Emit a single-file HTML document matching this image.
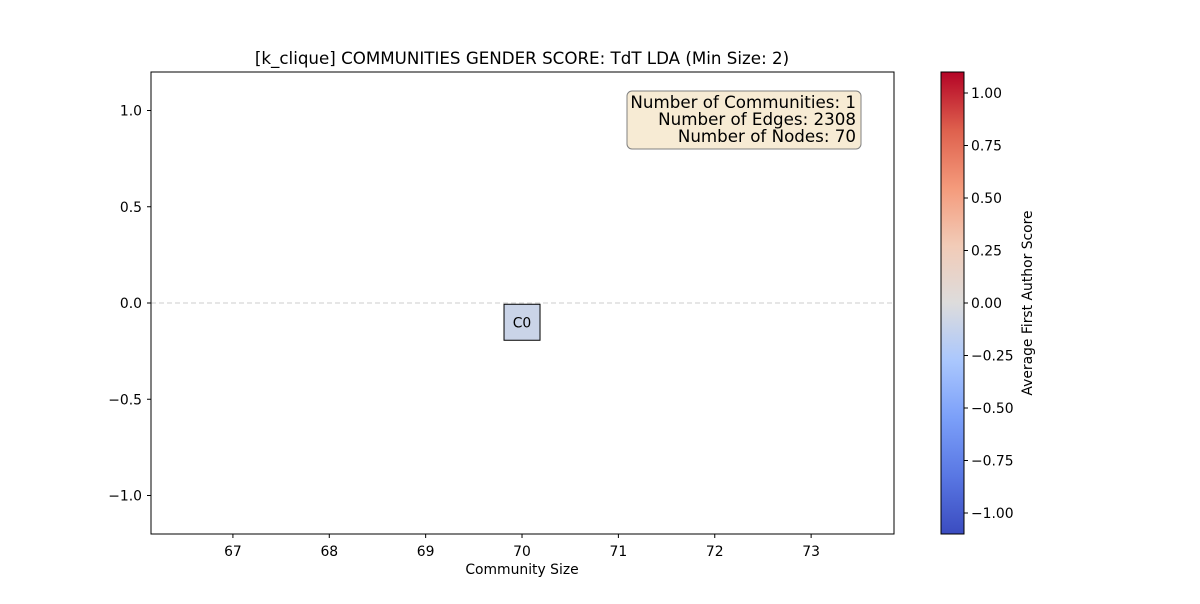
<!DOCTYPE html>
<html><head><meta charset="utf-8"><style>
body{margin:0;background:#fff;font-family:"DejaVu Sans","Liberation Sans",sans-serif;}
</style></head><body>
<svg id="chart" width="1200" height="600" xmlns="http://www.w3.org/2000/svg" font-family="DejaVu Sans, Liberation Sans, sans-serif">
<defs>
<linearGradient id="cw" x1="0" y1="1" x2="0" y2="0">
<stop offset="0" stop-color="#3b4cc0"/><stop offset="0.125" stop-color="#5977e3"/><stop offset="0.25" stop-color="#7b9ff9"/><stop offset="0.375" stop-color="#aac7fd"/><stop offset="0.5" stop-color="#dddcdc"/><stop offset="0.625" stop-color="#f2cbb7"/><stop offset="0.75" stop-color="#f49a7b"/><stop offset="0.875" stop-color="#de604d"/><stop offset="1" stop-color="#b40426"/>
</linearGradient>
</defs>
<text x="522" y="64" text-anchor="middle" font-size="16.7">[k_clique] COMMUNITIES GENDER SCORE: TdT LDA (Min Size: 2)</text>
<g id="plot"></g>
<rect x="151" y="72" width="743" height="462" fill="none" stroke="#000" stroke-width="1"/>
<text x="522" y="574" text-anchor="middle" font-size="13.9">Community Size</text>
<g>
<rect x="627" y="91" width="234" height="58" rx="5" fill="#f7ebd4" stroke="#808080" stroke-width="1"/>
<text x="856" y="108" text-anchor="end" font-size="16.7">Number of Communities: 1</text>
<text x="856" y="125" text-anchor="end" font-size="16.7">Number of Edges: 2308</text>
<text x="856" y="142" text-anchor="end" font-size="16.7">Number of Nodes: 70</text>
</g>
<rect x="941" y="72" width="23" height="462" fill="url(#cw)" stroke="#000" stroke-width="1"/>
<g id="cbticks"></g>
<text transform="translate(1032,303) rotate(-90)" text-anchor="middle" font-size="13.9">Average First Author Score</text>
</svg>
<script>
const xTicks=[67,68,69,70,71,72,73];
const yTicks=[-1.0,-0.5,0.0,0.5,1.0];
const cbTicks=[-1.0,-0.75,-0.5,-0.25,0,0.25,0.5,0.75,1.0];
const communityLabels=["C0"];
const communitySizes=[70];
const communityScores=[-0.1];
const communityColorScores=[-0.1];
const NS="http://www.w3.org/2000/svg";
const X=v=>151+(v-66.15)/(73.86-66.15)*743;
const Y=v=>72+(1.2-v)/2.4*462;
const CB=v=>72+(1.1-v)/2.2*462;
const FS=13.9;
const plot=document.getElementById('plot');
function mk(t,a,p){const e=document.createElementNS(NS,t);for(const k in a)e.setAttribute(k,a[k]);p.appendChild(e);return e;}
function fmt(v,d){return (v<0?'\u2212':'')+Math.abs(v).toFixed(d);}
function col(v){const t=(v+1.1)/2.2;const s=[[59,76,192],[89,119,227],[123,159,249],[170,199,253],[221,220,220],[242,203,183],[244,154,123],[222,96,77],[180,4,38]];const f=t*8,i=Math.min(7,Math.floor(f)),r=f-i;return 'rgb('+s[i].map((c,j)=>Math.round(c+(s[i+1][j]-c)*r)).join(',')+')';}
let l=mk('line',{x1:151,x2:894,y1:Y(0),y2:Y(0),stroke:'#ccc','stroke-dasharray':'5,3'},plot);


xTicks.forEach(v=>{const g=mk('g',{},plot);


mk('line',{x1:X(v),x2:X(v),y1:534,y2:538,stroke:'#000'},g);
const t=mk('text',{x:X(v),y:556,'text-anchor':'middle','font-size':FS},g);t.textContent=v;});
yTicks.forEach(v=>{const g=mk('g',{},plot);


mk('line',{x1:147,x2:151,y1:Y(v),y2:Y(v),stroke:'#000'},g);
const t=mk('text',{x:142,y:Y(v)+5,'text-anchor':'end','font-size':FS},g);t.textContent=fmt(v,1);});
communitySizes.forEach((s,i)=>{const g=mk('g',{},plot);


const cx=X(s),cy=Y(communityScores[i]);
mk('rect',{x:cx-18,y:cy-18,width:36,height:36,fill:col(communityColorScores[i]),stroke:'#000'},g);
const t=mk('text',{x:cx,y:cy+5,'text-anchor':'middle','font-size':FS},g);t.textContent=communityLabels[i];});
const cbg=document.getElementById('cbticks');
cbTicks.forEach(v=>{const g=mk('g',{},cbg);


mk('line',{x1:964,x2:968,y1:CB(v),y2:CB(v),stroke:'#000'},g);
const t=mk('text',{x:971,y:CB(v)+5,'font-size':FS},g);t.textContent=fmt(v,2);});
</script>
</body></html>
